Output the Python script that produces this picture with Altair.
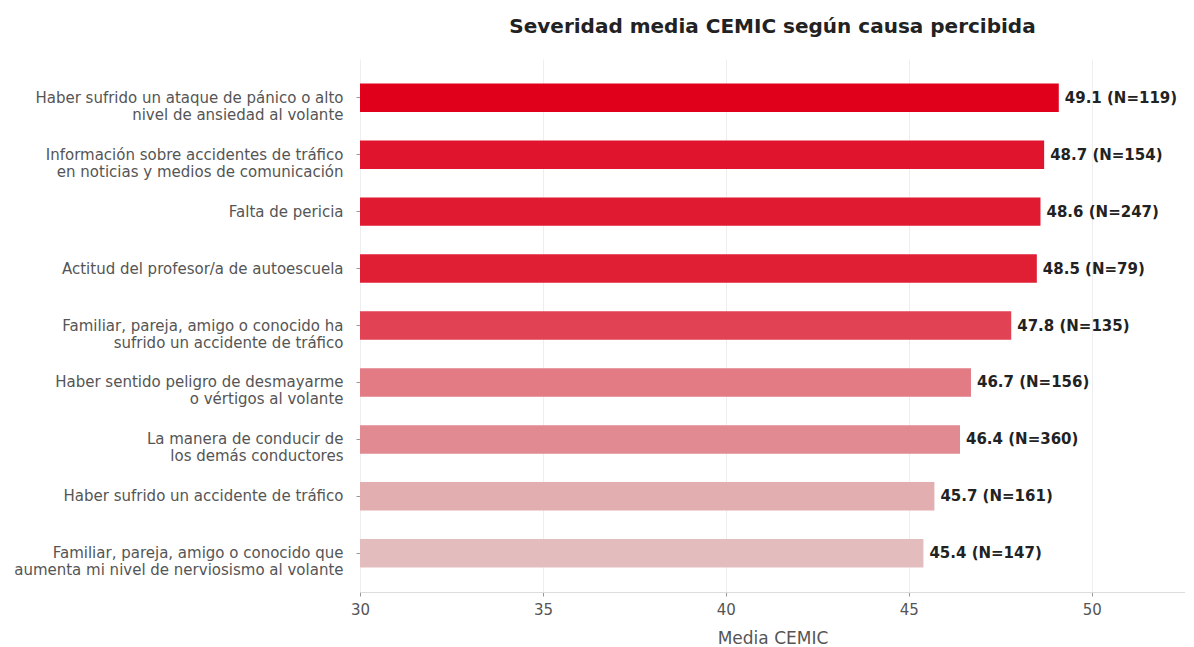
import altair as alt
import pandas as pd

causas = [
    "Haber sufrido un ataque de pánico o alto\nnivel de ansiedad al volante",
    "Información sobre accidentes de tráfico\nen noticias y medios de comunicación",
    "Falta de pericia",
    "Actitud del profesor/a de autoescuela",
    "Familiar, pareja, amigo o conocido ha\nsufrido un accidente de tráfico",
    "Haber sentido peligro de desmayarme\no vértigos al volante",
    "La manera de conducir de\nlos demás conductores",
    "Haber sufrido un accidente de tráfico",
    "Familiar, pareja, amigo o conocido que\naumenta mi nivel de nerviosismo al volante",
]
medias = [49.1, 48.7, 48.6, 48.5, 47.8, 46.7, 46.4, 45.7, 45.4]
ns = [119, 154, 247, 79, 135, 156, 360, 161, 147]

df = pd.DataFrame({"causa": causas, "media": medias, "n": ns})
df["etiqueta"] = [f"{m:.1f} (N={n})" for m, n in zip(medias, ns)]

FONT = "DejaVu Sans"

y_enc = alt.Y(
    "causa:N",
    sort=causas,
    title=None,
    scale=alt.Scale(paddingInner=0.5, paddingOuter=0.43),
    axis=alt.Axis(
        labelExpr="split(datum.label, '\\n')",
        labelFontSize=15,
        labelColor="#555555",
        labelFont=FONT,
        labelLimit=450,
        labelLineHeight=17,
        domain=False,
        ticks=True,
        tickSize=4,
        tickColor="#999999",
        labelPadding=13,
        grid=False,
    ),
)

x_scale = alt.Scale(domain=[30, 52.55], nice=False, zero=False, clamp=True)

bars = alt.Chart(df).mark_bar(clip=True).encode(
    y=y_enc,
    x=alt.X(
        "media:Q",
        scale=x_scale,
        title="Media CEMIC",
        axis=alt.Axis(
            values=[30, 35, 40, 45, 50],
            labelFontSize=15,
            labelColor="#555555",
            labelFont=FONT,
            labelFlush=False,
            titleFont=FONT,
            titleFontSize=17,
            titleFontWeight="normal",
            titleColor="#555555",
            titlePadding=13,
            domainColor="#dddddd",
            tickColor="#999999",
            tickSize=4,
            labelPadding=6,
            gridColor="#eeeeee",
        ),
    ),
    x2=alt.datum(30),
    color=alt.Color(
        "media:Q",
        scale=alt.Scale(domain=[45.4, 49.1], range=["#e3bdbd", "#e0001b"], interpolate="rgb"),
        legend=None,
    ),
)

texts = alt.Chart(df).mark_text(
    align="left", baseline="middle", dx=6, fontSize=15, fontWeight="bold",
    font=FONT, color="#222222",
).encode(
    y=alt.Y("causa:N", sort=causas),
    x=alt.X("media:Q", scale=x_scale),
    text="etiqueta:N",
)

chart = (bars + texts).properties(
    width=825,
    height=533,
    padding={"left": 5, "top": 9, "right": 0, "bottom": 0},
    title=alt.TitleParams(
        "Severidad media CEMIC según causa percibida",
        font=FONT, fontSize=20, fontWeight="bold", color="#222222",
        anchor="middle", offset=22,
    ),
).configure(background="white", view=alt.ViewConfig(stroke=None))

chart.save("out.html", embed_options={"renderer": "svg", "actions": False})
